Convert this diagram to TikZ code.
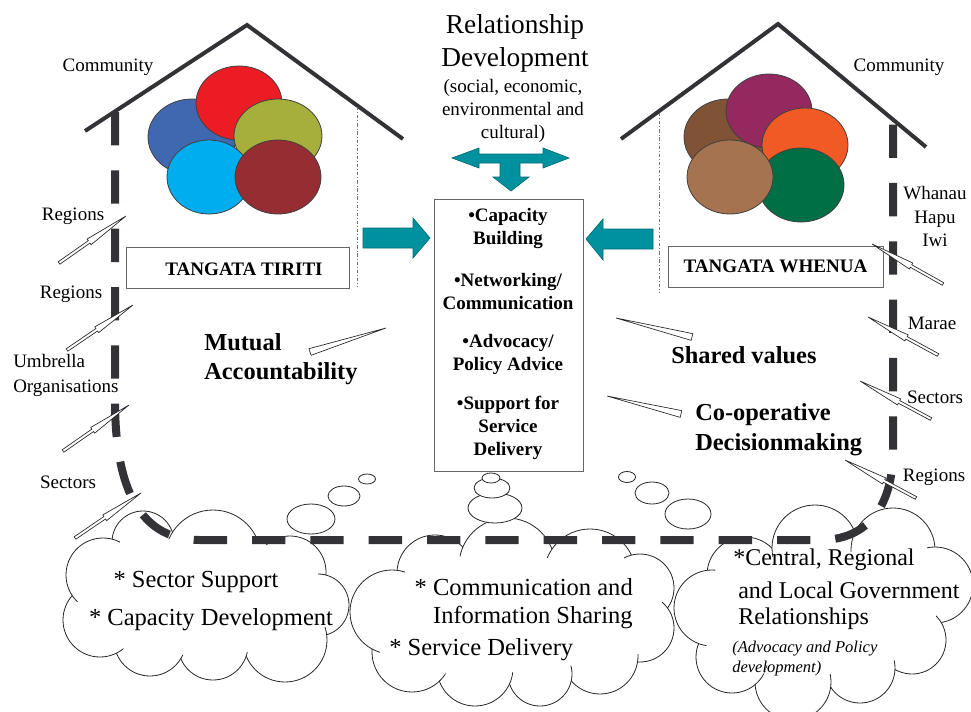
\documentclass[tikz,border=0pt]{standalone}
\usepackage{fontspec}
\setmainfont{Liberation Serif}
\usetikzlibrary{calc}
\definecolor{roofc}{HTML}{333337}
\definecolor{tealf}{HTML}{00919F}
\definecolor{teald}{HTML}{006B75}
\definecolor{cblue}{HTML}{4068B1}
\definecolor{cred}{HTML}{EC1C24}
\definecolor{colive}{HTML}{A6AE3C}
\definecolor{ccyan}{HTML}{00AEEF}
\definecolor{cmaroon}{HTML}{952D32}
\definecolor{cdbrown}{HTML}{805236}
\definecolor{cpurple}{HTML}{93295F}
\definecolor{corange}{HTML}{F15A24}
\definecolor{cgreen}{HTML}{006F45}
\definecolor{clbrown}{HTML}{A5734F}
\newcommand\penshape[2]{%
  \draw[penline] ($(#1)!1.1pt!90:(#2)$) -- ($(#1)!0.45!(#2)!1.1pt!90:(#2)$)
    -- ($(#1)!0.45!(#2)!2.6pt!90:(#2)$) -- (#2)
    -- ($(#1)!0.45!(#2)!2.6pt!-90:(#2)$) -- ($(#1)!0.45!(#2)!1.1pt!-90:(#2)$)
    -- ($(#1)!1.1pt!-90:(#2)$) -- cycle;}
\newcommand\wedgeshape[2]{%
  \draw[penline] (#2) -- ($(#1)!2.6pt!90:(#2)$) -- ($(#1)!2.6pt!-90:(#2)$) -- cycle;}
% cloud made of puffs: list of x/y/r, then white covers that leave short inner arcs
\newcommand\puffcloud[4]{%
  \foreach \cx/\cy/\cr in {#1} {\draw[puff] (\cx,\cy) circle [radius=\cr*0.75pt];}
  \foreach \cx/\cy/\cr in {#1} {\fill[white] (\cx,\cy) circle [radius=\cr*0.75pt-6pt];}
  \fill[white] (#2) ellipse [x radius=#3*0.75pt, y radius=#4*0.75pt];}
\begin{document}
\begin{tikzpicture}[x=0.75pt,y=-0.75pt,
  lbl/.style={font=\fontsize{14.25}{17}\selectfont, inner sep=0pt},
  blbl/.style={font=\fontsize{18.3}{22}\selectfont\bfseries, inner sep=0pt, align=left},
  boxtxt/.style={font=\fontsize{14.3}{17}\selectfont\bfseries, inner sep=0pt},
  ctxt/.style={font=\fontsize{14.25}{17.25}\selectfont\bfseries, inner sep=0pt, align=center},
  cloudtxt/.style={font=\fontsize{18.4}{22}\selectfont, inner sep=0pt},
  puff/.style={draw=black!85, line width=0.6pt, fill=white},
  bubble/.style={draw=black!85, line width=0.6pt, fill=white},
  wall/.style={draw=roofc, line width=6pt, dash pattern=on 25pt off 18.75pt},
  roof/.style={draw=roofc, line width=3pt},
  blob/.style={draw=black!75, line width=0.6pt},
  thinbox/.style={draw=black!60, line width=0.75pt, inner sep=0pt},
  dotline/.style={draw=black!55, line width=0.6pt, dash pattern=on 2.5pt off 1.5pt on 0.6pt off 1.5pt},
  bigarrow/.style={fill=tealf, draw=teald, line width=0.5pt},
  penline/.style={draw=black!85, line width=0.5pt, fill=white}]
\useasboundingbox (0,0) rectangle (971,711);
% clouds
\puffcloud{143/542/31, 213/558/48, 290/572/36, 318/605/31, 285/640/42, 213/645/35, 150/640/36, 100/620/37, 103/575/37}{206,596}{115}{60}
\puffcloud{435/573/38, 507/566/48, 590/575/46, 640/588/34, 640/628/34, 600/656/38, 540/674/32, 475/668/38, 412/652/40, 392/612/42}{512,614}{128}{58}
\puffcloud{745/575/38, 815/548/43, 893/550/42, 935/585/38, 912/640/34, 860/668/35, 793/682/38, 732/657/36, 712/608/38}{824,612}{112}{62}
% bubbles
\draw[bubble] (311,519) ellipse [x radius=24*0.75pt, y radius=15*0.75pt];
\draw[bubble] (344,496) ellipse [x radius=16*0.75pt, y radius=10*0.75pt];
\draw[bubble] (367,479) ellipse [x radius=8.5*0.75pt, y radius=5*0.75pt];
\draw[bubble] (495,508) ellipse [x radius=27*0.75pt, y radius=15*0.75pt];
\draw[bubble] (492,488) ellipse [x radius=18*0.75pt, y radius=10*0.75pt];
\draw[bubble] (491,478) ellipse [x radius=9*0.75pt, y radius=5*0.75pt];
\draw[bubble] (688,514) ellipse [x radius=23*0.75pt, y radius=15*0.75pt];
\draw[bubble] (652,493) ellipse [x radius=17*0.75pt, y radius=11*0.75pt];
\draw[bubble] (627,477) ellipse [x radius=8.5*0.75pt, y radius=5.5*0.75pt];
% dashed wall / ground line
\draw[wall] (115,112) -- (115,400) .. controls (115,480) and (135,540) .. (200,540)
  -- (820,540) .. controls (865,540) and (893,510) .. (893,450) -- (893,118);
% roofs
\draw[roof] (85,131) -- (247,25) -- (403,139);
\draw[roof] (621,139) -- (778,24) -- (926,147);
% dotted inner walls
\draw[dotline] (357,107) -- (357,287);
\draw[dotline] (659,113) -- (659,292);
% left blobs
\draw[blob, fill=cblue] (192,137) ellipse [x radius=44*0.75pt, y radius=38*0.75pt];
\draw[blob, fill=cred] (239,103) ellipse [x radius=43*0.75pt, y radius=37*0.75pt];
\draw[blob, fill=colive] (278,136) ellipse [x radius=44*0.75pt, y radius=37*0.75pt];
\draw[blob, fill=ccyan] (209,177) ellipse [x radius=42*0.75pt, y radius=37*0.75pt];
\draw[blob, fill=cmaroon] (278,177) ellipse [x radius=43*0.75pt, y radius=37*0.75pt];
% right blobs
\draw[blob, fill=cdbrown] (728,137) ellipse [x radius=44*0.75pt, y radius=38*0.75pt];
\draw[blob, fill=cpurple] (769,111) ellipse [x radius=43*0.75pt, y radius=37*0.75pt];
\draw[blob, fill=corange] (805,145) ellipse [x radius=43*0.75pt, y radius=37*0.75pt];
\draw[blob, fill=cgreen] (801,185) ellipse [x radius=43*0.75pt, y radius=37*0.75pt];
\draw[blob, fill=clbrown] (730,177) ellipse [x radius=43*0.75pt, y radius=37*0.75pt];
% boxes
\node[thinbox, minimum width=223*0.75pt, minimum height=41*0.75pt] (ttbox) at (237.5,267.5) {};
\node[boxtxt] (tttxt) at (244,269) {TANGATA TIRITI};
\node[thinbox, boxtxt, minimum width=215*0.75pt, minimum height=41*0.75pt] (twbox) at (775.5,266.5) {TANGATA WHENUA};
\node[thinbox, minimum width=149*0.75pt, minimum height=272*0.75pt] (cbox) at (508.5,335) {};
\node[ctxt] (g1) at (508,228.5) {•Capacity\\Building};
\node[ctxt] (g2) at (508,291.5) {•Networking/\\Communication};
\node[ctxt] (g3) at (508,354) {•Advocacy/\\Policy Advice};
\node[ctxt] (g4) at (508,428) {•Support for\\Service\\Delivery};
% teal arrows
\draw[bigarrow] (452,158) -- (479,148) -- (479,154) -- (543,154) -- (543,148) -- (569,158)
  -- (543,168) -- (543,163) -- (520,163) -- (520,177) -- (529,177) -- (511,191)
  -- (493,177) -- (500,177) -- (500,163) -- (479,163) -- (479,168) -- cycle;
\draw[bigarrow] (363,228) -- (413,228) -- (413,218) -- (430,238) -- (413,258) -- (413,248) -- (363,248) -- cycle;
\draw[bigarrow] (653,229) -- (603,229) -- (603,219) -- (586,239) -- (603,260) -- (603,249) -- (653,249) -- cycle;
% title
\node[font=\fontsize{20.5}{24.75}\selectfont, align=center, inner sep=0pt] (title) at (515,43.5) {Relationship\\Development};
\node[lbl, align=center, font=\fontsize{14.25}{17.25}\selectfont] (sub) at (513,111) {(social, economic,\\environmental and\\cultural)};
% pens
\coordinate (l1a) at (59,263); \coordinate (l1b) at (126,216);
\coordinate (l2a) at (67,350); \coordinate (l2b) at (133,305);
\coordinate (l3a) at (63,451); \coordinate (l3b) at (129,405);
\coordinate (l4a) at (75,538); \coordinate (l4b) at (141,493);
\coordinate (r1a) at (943,284); \coordinate (r1b) at (872,244);
\coordinate (r2a) at (938,355); \coordinate (r2b) at (868,317);
\coordinate (r3a) at (931,419); \coordinate (r3b) at (860,381);
\coordinate (r4a) at (916,498); \coordinate (r4b) at (845,460);
\penshape{l1a}{l1b}\penshape{l2a}{l2b}\penshape{l3a}{l3b}\penshape{l4a}{l4b}
\penshape{r1a}{r1b}\penshape{r2a}{r2b}\penshape{r3a}{r3b}\penshape{r4a}{r4b}
\coordinate (w1a) at (310,352); \coordinate (w1b) at (386,328);
\coordinate (w2a) at (692,337); \coordinate (w2b) at (616,318);
\coordinate (w3a) at (681,414); \coordinate (w3b) at (607,396);
\wedgeshape{w1a}{w1b}\wedgeshape{w2a}{w2b}\wedgeshape{w3a}{w3b}
% side labels
\node[lbl] (comL) at (108,67) {Community};
\node[lbl] (comR) at (899,67) {Community};
\node[lbl] (regL1) at (73,216) {Regions};
\node[lbl] (regL2) at (71,294) {Regions};
\node[lbl, align=left, anchor=west, font=\fontsize{14.25}{18.75}\selectfont] (umb) at (13,375.5) {Umbrella\\Organisations};
\node[lbl] (secL) at (68,482) {Sectors};
\node[lbl, align=center, font=\fontsize{14.25}{17.5}\selectfont] (whi) at (935,216.5) {Whanau\\Hapu\\Iwi};
\node[lbl] (mar) at (932,323) {Marae};
\node[lbl] (secR) at (935,397) {Sectors};
\node[lbl] (regR) at (934,477) {Regions};
% bold labels
\node[blbl, anchor=west, font=\fontsize{18.3}{21.75}\selectfont\bfseries] (mutual) at (204,359.5) {Mutual\\Accountability};
\node[blbl, anchor=west] (shared) at (671,355) {Shared values};
\node[blbl, anchor=west, font=\fontsize{18.3}{22.5}\selectfont\bfseries] (coop) at (695,430) {Co-operative\\Decisionmaking};
% cloud texts
\node[cloudtxt] (t11) at (196,582) {* Sector Support};
\node[cloudtxt] (t12) at (211,620) {* Capacity Development};
\node[cloudtxt, anchor=east] (t21) at (633,587) {* Communication and};
\node[cloudtxt, anchor=east] (t22) at (633,617) {Information Sharing};
\node[cloudtxt, anchor=west] (t23) at (389,650) {* Service Delivery};
\node[cloudtxt, anchor=west, font=\fontsize{18}{22}\selectfont] (t31) at (733,560) {*Central, Regional};
\node[cloudtxt, anchor=west, font=\fontsize{18}{22}\selectfont] (t32) at (738,590) {and Local Government};
\node[cloudtxt, anchor=west, font=\fontsize{18}{22}\selectfont] (t33) at (738,619) {Relationships};
\node[cloudtxt, anchor=west, font=\fontsize{12.4}{15}\selectfont\itshape] (t34) at (732,649) {(Advocacy and Policy};
\node[cloudtxt, anchor=west, font=\fontsize{12.4}{15}\selectfont\itshape] (t35) at (732,669) {development)};
\end{tikzpicture}
\end{document}
